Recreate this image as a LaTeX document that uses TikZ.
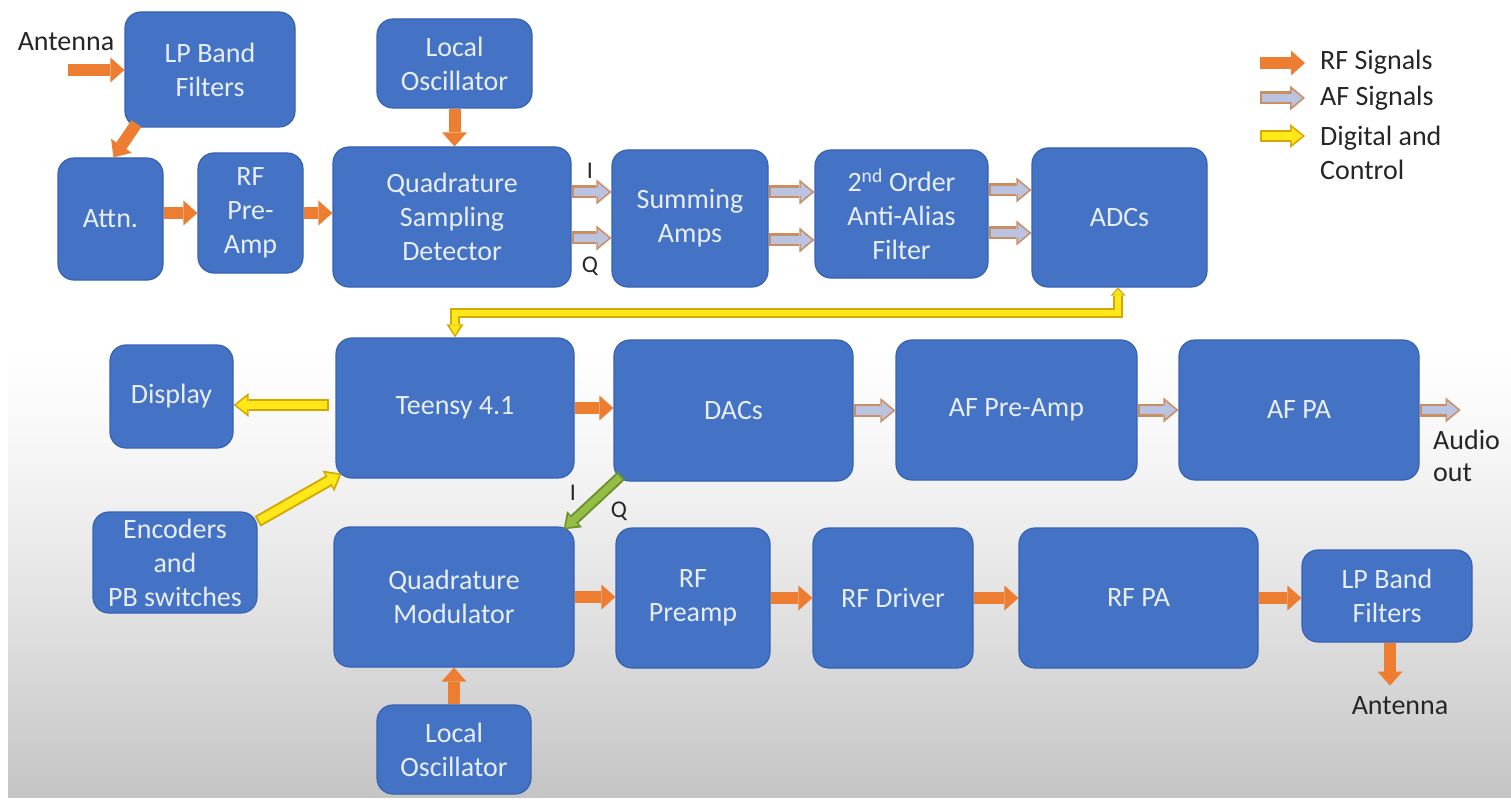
\documentclass[tikz,border=0pt]{standalone}
\usepackage{fontspec}
\setmainfont{Carlito}
\usetikzlibrary{arrows.meta,calc}

\definecolor{boxblue}{HTML}{4472C4}
\definecolor{boxedge}{HTML}{3762B2}
\definecolor{boxtext}{HTML}{E8EEF8}
\definecolor{rfc}{HTML}{ED7D31}
\definecolor{afedge}{HTML}{C98F62}
\definecolor{affill}{HTML}{BAC4E0}
\definecolor{dgedge}{HTML}{D4A800}
\definecolor{dgfill}{HTML}{FFE81A}
\definecolor{iqedge}{HTML}{6E902C}
\definecolor{iqfill}{HTML}{93BE46}
\definecolor{ink}{HTML}{262626}
\definecolor{floorgray}{HTML}{C4C4C4}

% outlined block arrow: border stroke first, then the inner fill stroke
\newcommand\dualstroke[3]{\draw[#1] #3; \draw[#2] #3;}

\begin{document}
\begin{tikzpicture}[x=1pt,y=-1pt,
  blk/.style={rectangle, rounded corners=16pt, fill=boxblue, draw=boxedge,
    line width=1.2pt, text=boxtext, align=center, inner sep=0pt,
    font=\fontsize{28}{34}\selectfont},
  lbl/.style={text=ink, inner sep=0pt, font=\fontsize{28}{34}\selectfont},
  iqlbl/.style={text=ink, inner sep=0pt, font=\fontsize{24}{28}\selectfont},
  rf/.style={draw=rfc, line width=12pt,
    -{Triangle[width=25pt,length=14pt,line width=0pt]}},
  afout/.style={draw=afedge, line width=13pt,
    -{Triangle[width=25pt,length=15pt,line width=0pt]}},
  afin/.style={draw=affill, line width=8.5pt, shorten <=2pt, shorten >=2.5pt,
    -{Triangle[width=18pt,length=11pt,line width=0pt]}},
  dgout/.style={draw=dgedge, line width=12pt,
    -{Triangle[width=24pt,length=15pt,line width=0pt]}},
  dgin/.style={draw=dgfill, line width=8pt, shorten <=2pt, shorten >=2.5pt,
    -{Triangle[width=17pt,length=11pt,line width=0pt]}},
  busout/.style={draw=dgedge, line width=10pt,
    {Triangle[width=15pt,length=8pt,line width=0pt]}-{Triangle[width=17pt,length=13pt,line width=0pt]}},
  busin/.style={draw=dgfill, line width=6pt, shorten <=2pt, shorten >=2.5pt,
    {Triangle[width=10pt,length=5pt,line width=0pt]}-{Triangle[width=11pt,length=9.5pt,line width=0pt]}},
  iqout/.style={draw=iqedge, line width=11pt,
    -{Triangle[width=22pt,length=15pt,line width=0pt]}},
  iqin/.style={draw=iqfill, line width=7pt, shorten <=2pt, shorten >=2.5pt,
    -{Triangle[width=15pt,length=11pt,line width=0pt]}},
]
\useasboundingbox (0,0) rectangle (1511,802);

% background: white, fading smoothly to grey towards the bottom
\fill[white] (0,0) rectangle (1511,802);
\foreach \i in {0,...,114} {
  \pgfmathsetmacro\yy{340+4*\i}
  \pgfmathsetmacro\yb{min(\yy+4.4,798)}
  \pgfmathsetmacro\pc{100*(\i/114)^1.3}
  \fill[floorgray!\pc!white] (8,\yy) rectangle (1511,\yb);
}

% ---------- receive chain ----------
\node[blk, minimum width=170pt, minimum height=115pt] (lpA) at (210,69.5) {LP Band\\Filters};
\node[blk, minimum width=105pt, minimum height=122pt] (attn) at (110.5,219) {Attn.};
\node[blk, minimum width=105pt, minimum height=120pt] (rfpre) at (250.5,213) {RF\\Pre-\\Amp};
\node[blk, minimum width=155pt, minimum height=89pt] (loA) at (454.5,63.5) {Local\\Oscillator};
\node[blk, minimum width=238pt, minimum height=140pt] (qsd) at (452,217) {Quadrature\\Sampling\\Detector};
\node[blk, minimum width=156pt, minimum height=137pt] (sum) at (690,218.5) {Summing\\Amps};
\node[blk, minimum width=173pt, minimum height=128pt] (aaf) at (901.5,214) {2\textsuperscript{nd} Order\\Anti-Alias\\Filter};
\node[blk, minimum width=175pt, minimum height=139pt] (adc) at (1119.5,217.5) {ADCs};

% ---------- processing and audio ----------
\node[blk, minimum width=123pt, minimum height=103pt] (disp) at (171.5,396.5) {Display};
\node[blk, minimum width=238pt, minimum height=140pt] (teensy) at (455,408) {Teensy 4.1};
\node[blk, minimum width=239pt, minimum height=141pt] (dac) at (733.5,410.5) {DACs};
\node[blk, minimum width=241pt, minimum height=140pt] (afpre) at (1016.5,410) {AF Pre-Amp};
\node[blk, minimum width=240pt, minimum height=140pt] (afpa) at (1299,410) {AF PA};
\node[blk, minimum width=164pt, minimum height=101pt] (enc) at (175,562.5) {Encoders\\and\\PB switches};

% ---------- transmit chain ----------
\node[blk, minimum width=240pt, minimum height=140pt] (qm) at (454,597) {Quadrature\\Modulator};
\node[blk, minimum width=154pt, minimum height=140pt] (rfp2) at (693,598) {RF\\Preamp};
\node[blk, minimum width=160pt, minimum height=140pt] (rfd) at (893,598) {RF Driver};
\node[blk, minimum width=239pt, minimum height=140pt] (rfpa) at (1138.5,598) {RF PA};
\node[blk, minimum width=170pt, minimum height=92pt] (lpB) at (1387,596) {LP Band\\Filters};
\node[blk, minimum width=154pt, minimum height=89pt] (loB) at (454,749.5) {Local\\Oscillator};

% ---------- free labels ----------
\node[lbl] (antA) at (66,42) {Antenna};
\node[lbl] (antB) at (1400,706) {Antenna};
\node[lbl, align=left, anchor=west, font=\fontsize{28}{32}\selectfont] (audioTxt) at (1433,456) {Audio\\out};
\node[iqlbl] (lblI) at (590,171) {I};
\node[iqlbl] (lblQ) at (590,266) {Q};
\node[iqlbl] (lblI2) at (573,493) {I};
\node[iqlbl] (lblQ2) at (619,511) {Q};

% ---------- legend ----------
\node[lbl, anchor=base west] (legRF) at (1320,70) {RF Signals};
\node[lbl, anchor=base west] (legAF) at (1320,106) {AF Signals};
\node[lbl, anchor=west, align=left] (legDG) at (1320,153) {Digital and\\Control};
\coordinate (legRFe) at (1305,63);
\coordinate (legAFe) at (1305,98);
\coordinate (legDGe) at (1305,136);
\draw[rf] ([shift={(-45,0)}]legRFe) -- (legRFe);
\dualstroke{afout}{afin}{([shift={(-45,0)}]legAFe) -- (legAFe)}
\dualstroke{dgout}{dgin}{([shift={(-45,0)}]legDGe) -- (legDGe)}

% ---------- RF connections ----------
\coordinate (antIn) at (68,70);
\draw[rf] (antIn) -- (antIn -| lpA.west);
\draw[rf] ([shift={(12,-4)}]lpA.south west) -- ([shift={(3,0)}]attn.north);
\draw[rf] (attn.east |- rfpre.west) -- (rfpre.west);
\draw[rf] (rfpre.east) -- (rfpre.east -| qsd.west);
\draw[rf] (loA.south) -- (loA.south |- qsd.north);
\draw[rf] (teensy.east) -- (teensy.east -| dac.west);
\draw[rf] (loB.north) -- (loB.north |- qm.south);
\draw[rf] (qm.east) -- (qm.east -| rfp2.west);
\draw[rf] (rfp2.east) -- (rfp2.east -| rfd.west);
\draw[rf] (rfd.east) -- (rfd.east -| rfpa.west);
\draw[rf] (rfpa.east) -- (rfpa.east -| lpB.west);
\coordinate (antOut) at ([shift={(3,43)}]lpB.south);
\draw[rf] (antOut |- lpB.south) -- (antOut);

% ---------- AF connections (I and Q pairs) ----------
\coordinate (qsdI) at ([shift={(0,-25)}]qsd.east);
\coordinate (qsdQ) at ([shift={(0,21)}]qsd.east);
\coordinate (sumI) at ([shift={(0,-26.5)}]sum.east);
\coordinate (sumQ) at ([shift={(0,21.5)}]sum.east);
\coordinate (aafI) at ([shift={(0,-24)}]aaf.east);
\coordinate (aafQ) at ([shift={(0,19)}]aaf.east);
\dualstroke{afout}{afin}{(qsdI) -- (qsdI -| sum.west)}
\dualstroke{afout}{afin}{(qsdQ) -- (qsdQ -| sum.west)}
\dualstroke{afout}{afin}{(sumI) -- (sumI -| aaf.west)}
\dualstroke{afout}{afin}{(sumQ) -- (sumQ -| aaf.west)}
\dualstroke{afout}{afin}{(aafI) -- (aafI -| adc.west)}
\dualstroke{afout}{afin}{(aafQ) -- (aafQ -| adc.west)}
\dualstroke{afout}{afin}{(dac.east) -- (dac.east -| afpre.west)}
\dualstroke{afout}{afin}{(afpre.east) -- (afpre.east -| afpa.west)}
\coordinate (audioEnd) at ([shift={(41,0)}]afpa.east);
\dualstroke{afout}{afin}{(afpa.east) -- (audioEnd)}

% ---------- digital and control ----------
\dualstroke{busout}{busin}{([shift={(-1.5,0)}]adc.south) -- ++(0,25) -| (teensy.north)}
\coordinate (tDisp) at ([shift={(-6,-3)}]teensy.west);
\dualstroke{dgout}{dgin}{(tDisp) -- (tDisp -| disp.east)}
\dualstroke{dgout}{dgin}{([shift={(0,10)}]enc.north east) -- ([shift={(6,-5)}]teensy.south west)}

% ---------- baseband I/Q to the modulator ----------
\dualstroke{iqout}{iqin}{([shift={(8,-6)}]dac.south west) -- ([shift={(-11,3)}]qm.north east)}

\end{tikzpicture}
\end{document}
